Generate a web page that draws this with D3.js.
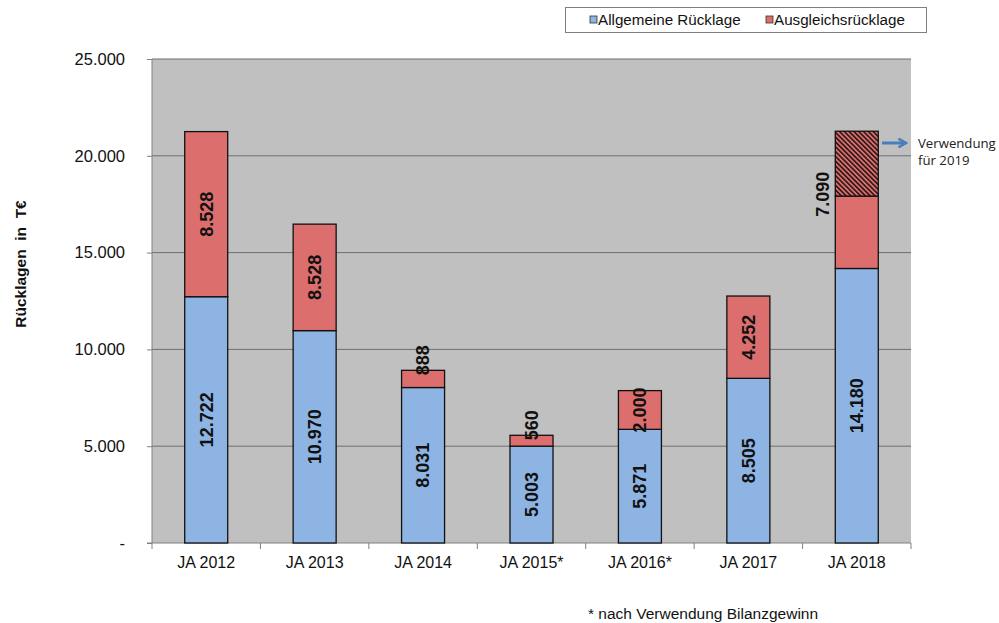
<!DOCTYPE html>
<html><head><meta charset="utf-8">
<script src="https://cdn.jsdelivr.net/npm/d3@7/dist/d3.min.js"></script>
<style>body{margin:0;background:#fff}svg{display:block}text{font-family:"Liberation Sans",Arial,sans-serif}</style>
</head><body><svg id="c" width="999" height="623"></svg>
<script>
const categories = ["JA 2012","JA 2013","JA 2014","JA 2015*","JA 2016*","JA 2017","JA 2018"];
const allgemeine = [12722,10970,8031,5003,5871,8505,14180];
// drawn heights of Ausgleichsrücklage
const ausgleich = [8528,5500,888,560,2000,4252,7090];
// printed labels of Ausgleichsrücklage (2013 bar printed as 8.528)
const ausgleichLabels = ["8.528","8.528","888","560","2.000","4.252","7.090"];
const verwendung2019 = [0,0,0,0,0,0,3350]; // hatched part of Ausgleichsrücklage
const yTicks = [0,5000,10000,15000,20000,25000];
const seriesNames = ["Allgemeine Rücklage","Ausgleichsrücklage"];
const colors = ["#8db4e2","#dc6f6d"];

const svg = d3.select("#c");
const L=152,R=911,T=59,B=543;
const x = d3.scaleBand().domain(categories).range([L,R]).paddingInner(0.6).paddingOuter(0.3);
const xc = d3.scaleBand().domain(categories).range([L,R]);
const y = d3.scaleLinear().domain([0,25000]).range([B,T]);
const fmt = v => v===0 ? "-" : d3.format(",")(v).replace(/,/g,".");

const defs = svg.append("defs");
const pat = defs.append("pattern").attr("id","hatch").attr("patternUnits","userSpaceOnUse")
  .attr("width",3.4).attr("height",3.4).attr("patternTransform","rotate(-45)");
pat.append("rect").attr("width",3.4).attr("height",3.4).attr("fill",colors[1]);
pat.append("line").attr("x1",0.8).attr("y1",0).attr("x2",0.8).attr("y2",3.4).attr("stroke","#1a1010").attr("stroke-width",1.5);

svg.append("rect").attr("x",L).attr("y",T).attr("width",R-L).attr("height",B-T).attr("fill","#c0c0c0");
svg.append("g").selectAll("line").data(yTicks.filter(d=>d>0)).join("line")
  .attr("x1",L).attr("x2",R).attr("y1",d=>y(d)).attr("y2",d=>y(d)).attr("stroke","#6e6e6e").attr("stroke-width",1);

// y axis
const ya = svg.append("g").attr("transform",`translate(${L},0)`)
  .call(d3.axisLeft(y).tickValues(yTicks).tickFormat(fmt).tickSize(5).tickPadding(22));
ya.select(".domain").attr("stroke","#808080").attr("d",`M0,${T}V${B}`);
ya.selectAll(".tick line").attr("stroke","#808080");
ya.selectAll("text").attr("font-size",16.5).attr("fill","#111").style("font-family","Liberation Sans, Arial");

// x axis
const xa = svg.append("g").attr("transform",`translate(0,${B})`);
xa.append("line").attr("x1",L-5).attr("x2",R).attr("stroke","#808080");
xa.selectAll("line.t").data(categories.concat(["end"])).join("line").attr("class","t")
  .attr("x1",(d,i)=>L+i*xc.bandwidth()).attr("x2",(d,i)=>L+i*xc.bandwidth()).attr("y1",0).attr("y2",6).attr("stroke","#808080");
xa.selectAll("text").data(categories).join("text")
  .attr("x",d=>xc(d)+xc.bandwidth()/2).attr("y",25).attr("text-anchor","middle")
  .attr("font-size",16).attr("fill","#111").text(d=>d);

// bars
const bw = 43;
const bars = svg.append("g");
categories.forEach((c,i)=>{
  const cx = x(c)+x.bandwidth()/2;
  const a = allgemeine[i], r = ausgleich[i], h = verwendung2019[i];
  bars.append("rect").attr("x",cx-bw/2).attr("width",bw).attr("y",y(a)).attr("height",y(0)-y(a))
    .attr("fill",colors[0]).attr("stroke","#111").attr("stroke-width",1.3);
  bars.append("rect").attr("x",cx-bw/2).attr("width",bw).attr("y",y(a+r-h)).attr("height",y(a)-y(a+r-h))
    .attr("fill",colors[1]).attr("stroke","#111").attr("stroke-width",1.3);
  if(h>0){
    bars.append("rect").attr("x",cx-bw/2).attr("width",bw).attr("y",y(a+r)).attr("height",y(a+r-h)-y(a+r))
      .attr("fill","url(#hatch)").attr("stroke","#111").attr("stroke-width",1.3);
  }
});

// labels
const lab = svg.append("g").attr("font-size",18).attr("font-weight","bold").attr("fill","#111");
function vlabel(px,py,t,anchor){
  lab.append("text").attr("transform",`translate(${px},${py}) rotate(-90)`)
    .attr("text-anchor",anchor).attr("dy","0.35em").text(t);
}
categories.forEach((c,i)=>{
  const cx = x(c)+x.bandwidth()/2;
  const a = allgemeine[i], r = ausgleich[i], h = verwendung2019[i];
  vlabel(cx, y(a/2), fmt(a), "middle");
  if(h>0){
    vlabel(cx-bw/2-13, y(a+r*0.54), ausgleichLabels[i], "middle");
  } else if(y(a)-y(a+r) < 30){
    vlabel(cx, y(a+r)+5, ausgleichLabels[i], "start");
  } else {
    vlabel(cx, y(a+r/2), ausgleichLabels[i], "middle");
  }
});

// y title
svg.append("text").attr("transform","translate(26,264) rotate(-90)").attr("text-anchor","middle")
  .attr("font-size",15.5).attr("font-weight","bold").attr("fill","#111").style("white-space","pre")
  .text("Rücklagen  in  T€");

// legend
const lg = svg.append("g");
lg.append("rect").attr("x",565.5).attr("y",7.5).attr("width",361).attr("height",25).attr("fill","#fff").attr("stroke","#808080");
const lx = [590,766];
seriesNames.forEach((s,i)=>{
  lg.append("rect").attr("x",lx[i]).attr("y",16).attr("width",7).attr("height",7).attr("fill",colors[i]).attr("stroke","#333").attr("stroke-width",0.8);
  lg.append("text").attr("x",lx[i]+8).attr("y",25).attr("font-size",15.2).attr("fill","#111").text(s);
});

// annotation arrow
const ay = 143;
svg.append("defs").append("marker").attr("id","arr").attr("viewBox","0 0 10 10").attr("refX",8).attr("refY",5)
  .attr("markerWidth",3.6).attr("markerHeight",3.6).attr("orient","auto")
  .append("path").attr("d","M1,1 L8,5 L1,9").attr("fill","none").attr("stroke","#4a7ebb").attr("stroke-width",2.4);
svg.append("line").attr("x1",882).attr("x2",906).attr("y1",ay).attr("y2",ay)
  .attr("stroke","#4a7ebb").attr("stroke-width",3).attr("marker-end","url(#arr)");
const at = svg.append("text").attr("font-size",13.2).attr("fill","#222").style("font-family","Open Sans, sans-serif");
at.append("tspan").attr("x",918).attr("y",ay+5).text("Verwendung");
at.append("tspan").attr("x",918).attr("y",ay+22).text("für 2019");

// footnote
svg.append("text").attr("x",588).attr("y",619).attr("font-size",15.5).attr("fill","#111").text("* nach Verwendung Bilanzgewinn");
</script></body></html>
